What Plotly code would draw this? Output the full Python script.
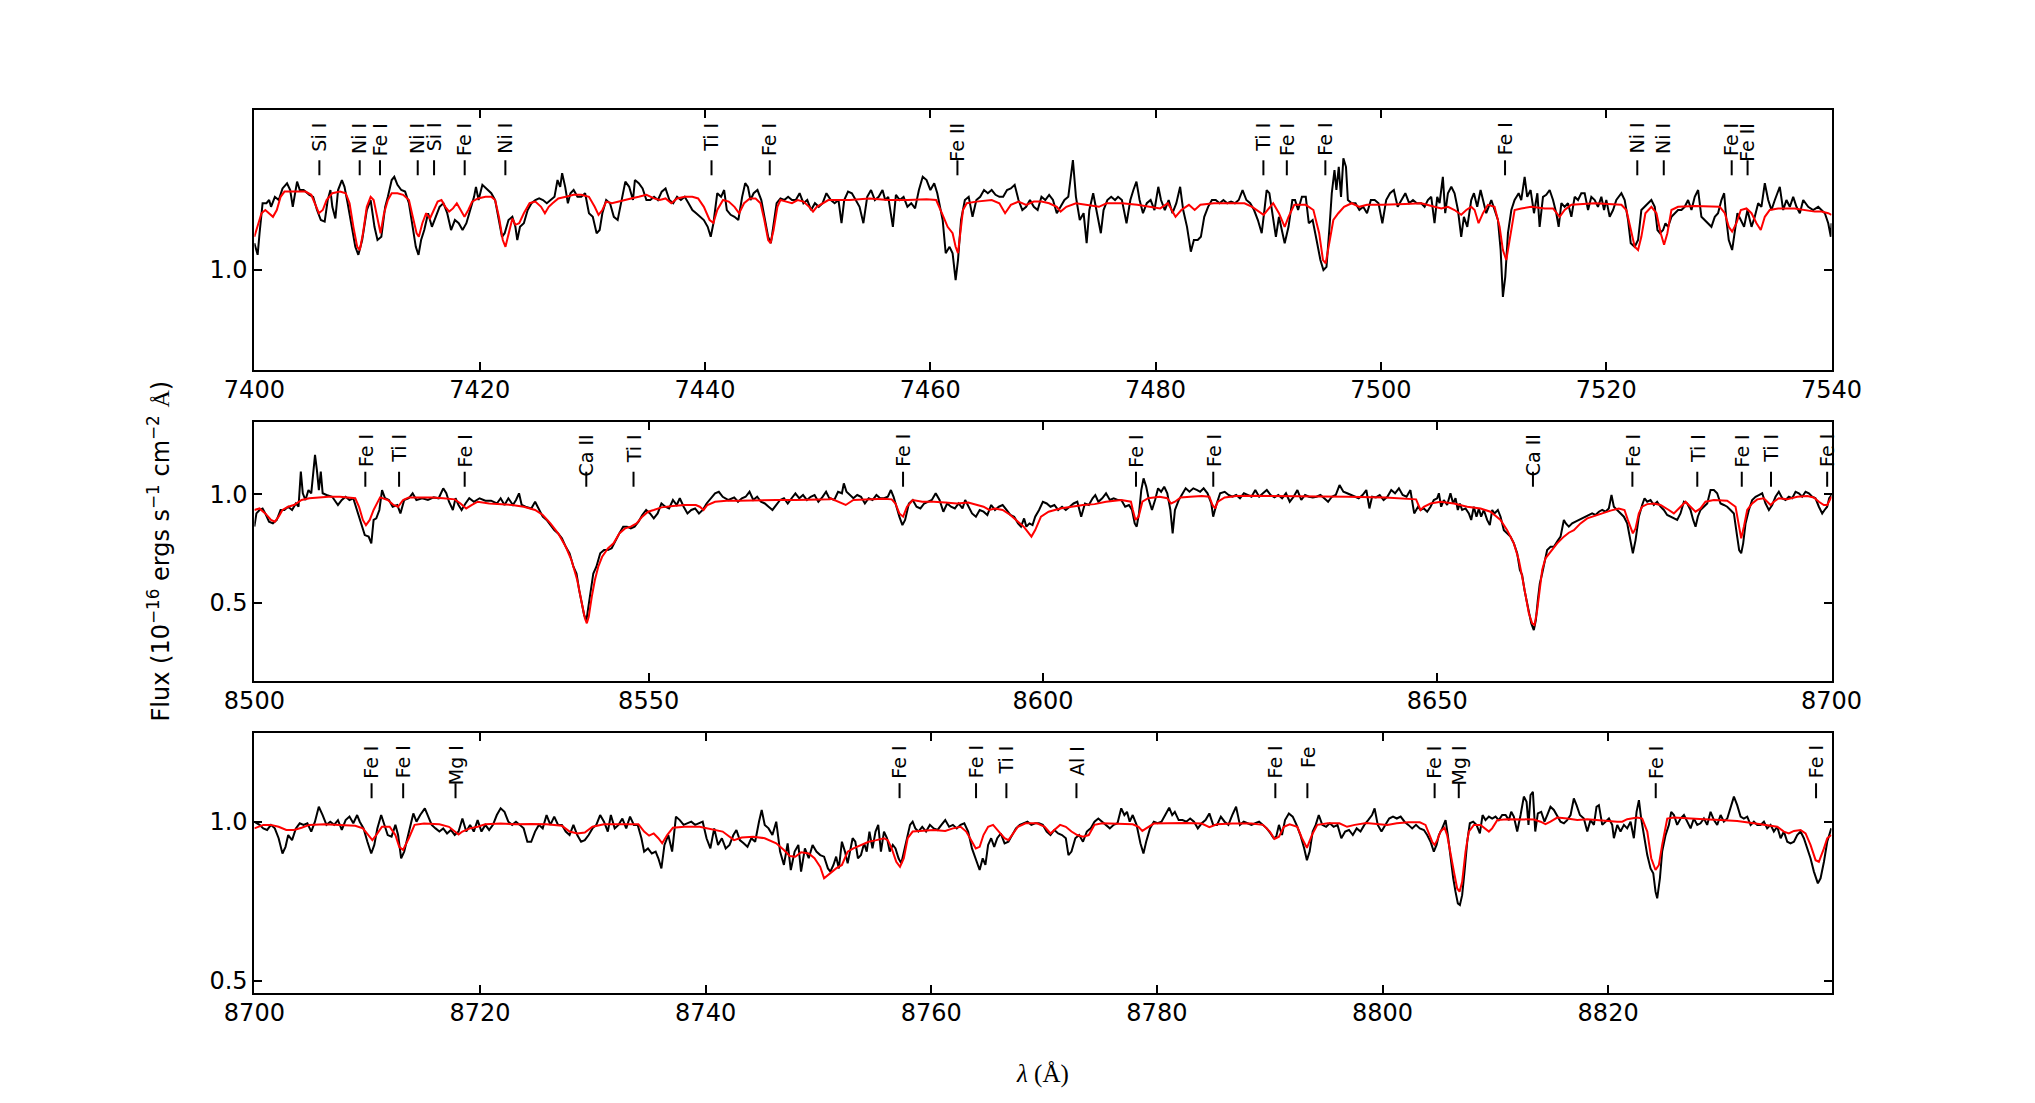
import plotly.graph_objects as go

# ---------------- data ----------------
# Panel 1: observed spectrum (wavelength [A], flux)
P1_OBS = [(7400.00,1.067),(7400.29,1.038),(7400.46,1.092),(7400.73,1.167),(7401.07,1.167),(7401.31,1.175),(7401.48,1.158),(7401.82,1.183),(7402.16,1.175),(7402.50,1.204),(7402.90,1.217),(7403.18,1.200),(7403.41,1.158),(7403.79,1.221),(7404.03,1.200),(7404.37,1.200),(7404.88,1.188),(7405.22,1.183),(7405.56,1.150),(7405.90,1.125),(7406.24,1.121),(7406.51,1.175),(7406.75,1.200),(7406.92,1.158),(7407.19,1.129),(7407.43,1.200),(7407.77,1.225),(7408.00,1.208),(7408.28,1.167),(7408.62,1.117),(7408.96,1.058),(7409.23,1.038),(7409.57,1.075),(7409.98,1.150),(7410.32,1.175),(7410.66,1.108),(7410.93,1.075),(7411.27,1.083),(7411.61,1.158),(7411.85,1.183),(7412.19,1.225),(7412.42,1.233),(7412.70,1.213),(7413.04,1.200),(7413.38,1.196),(7413.72,1.167),(7414.06,1.108),(7414.33,1.058),(7414.57,1.038),(7414.80,1.075),(7415.08,1.100),(7415.42,1.142),(7415.76,1.108),(7416.10,1.133),(7416.44,1.158),(7416.78,1.167),(7417.12,1.142),(7417.46,1.100),(7417.80,1.125),(7418.14,1.117),(7418.48,1.100),(7418.82,1.117),(7419.16,1.150),(7419.50,1.183),(7419.67,1.208),(7419.90,1.175),(7420.24,1.213),(7420.69,1.200),(7421.03,1.192),(7421.37,1.175),(7421.71,1.125),(7421.98,1.083),(7422.22,1.092),(7422.56,1.125),(7422.90,1.133),(7423.17,1.108),(7423.34,1.075),(7423.58,1.108),(7423.92,1.117),(7424.26,1.150),(7424.60,1.167),(7424.94,1.175),(7425.28,1.179),(7425.62,1.175),(7425.96,1.167),(7426.30,1.175),(7426.64,1.183),(7426.91,1.225),(7427.15,1.208),(7427.32,1.242),(7427.59,1.208),(7427.83,1.167),(7428.06,1.192),(7428.34,1.200),(7428.68,1.183),(7429.02,1.183),(7429.36,1.192),(7429.70,1.142),(7430.04,1.133),(7430.38,1.092),(7430.65,1.100),(7430.89,1.142),(7431.23,1.175),(7431.57,1.167),(7431.91,1.133),(7432.25,1.125),(7432.59,1.175),(7432.93,1.221),(7433.27,1.208),(7433.61,1.175),(7433.78,1.225),(7434.12,1.217),(7434.46,1.204),(7434.80,1.175),(7435.14,1.175),(7435.48,1.183),(7435.82,1.175),(7436.16,1.196),(7436.50,1.204),(7436.84,1.175),(7437.18,1.167),(7437.52,1.183),(7437.86,1.175),(7438.20,1.183),(7438.54,1.167),(7438.88,1.150),(7439.22,1.142),(7439.56,1.133),(7439.90,1.125),(7440.24,1.108),(7440.51,1.083),(7440.75,1.117),(7441.09,1.192),(7441.43,1.183),(7441.70,1.200),(7441.94,1.150),(7442.28,1.138),(7442.62,1.133),(7442.96,1.125),(7443.30,1.183),(7443.57,1.217),(7443.81,1.208),(7444.04,1.175),(7444.32,1.192),(7444.66,1.200),(7445.00,1.175),(7445.34,1.125),(7445.61,1.083),(7445.85,1.067),(7446.08,1.108),(7446.36,1.167),(7446.70,1.179),(7447.04,1.175),(7447.38,1.183),(7447.72,1.175),(7448.06,1.175),(7448.40,1.192),(7448.74,1.167),(7449.08,1.175),(7449.42,1.150),(7449.76,1.167),(7450.10,1.158),(7450.44,1.167),(7450.78,1.192),
(7451.17,1.175),(7451.51,1.167),(7451.85,1.175),(7452.12,1.117),(7452.36,1.175),(7452.70,1.196),(7453.04,1.192),(7453.38,1.175),(7453.72,1.158),(7454.06,1.117),(7454.40,1.183),(7454.74,1.200),(7455.08,1.175),(7455.42,1.183),(7455.76,1.200),(7456.00,1.175),(7456.27,1.183),(7456.68,1.108),(7456.95,1.188),(7457.29,1.175),(7457.63,1.183),(7457.97,1.158),(7458.31,1.167),(7458.65,1.154),(7458.99,1.200),(7459.33,1.233),(7459.67,1.225),(7460.01,1.200),(7460.35,1.217),(7460.62,1.192),(7460.86,1.158),(7461.10,1.125),(7461.37,1.042),(7461.71,1.058),(7461.98,1.042),(7462.25,0.975),(7462.46,1.025),(7462.73,1.125),(7463.07,1.175),(7463.41,1.183),(7463.75,1.133),(7464.09,1.175),(7464.43,1.183),(7464.77,1.200),(7465.11,1.192),(7465.45,1.200),(7465.79,1.188),(7466.13,1.183),(7466.47,1.183),(7466.81,1.200),(7467.15,1.204),(7467.49,1.213),(7467.83,1.175),(7468.17,1.150),(7468.51,1.158),(7468.85,1.175),(7469.19,1.158),(7469.53,1.150),(7469.87,1.183),(7470.21,1.175),(7470.55,1.188),(7470.89,1.175),(7471.23,1.142),(7471.57,1.158),(7471.91,1.175),(7472.25,1.183),(7472.42,1.225),(7472.66,1.275),(7472.93,1.183),(7473.27,1.125),(7473.61,1.142),(7473.88,1.067),(7474.12,1.150),(7474.46,1.192),(7474.80,1.142),(7475.14,1.092),(7475.38,1.150),(7475.72,1.175),(7476.06,1.183),(7476.40,1.175),(7476.67,1.183),(7477.01,1.175),(7477.42,1.117),(7477.76,1.175),(7478.03,1.200),(7478.30,1.221),(7478.58,1.175),(7478.88,1.142),(7479.22,1.167),(7479.56,1.175),(7479.90,1.150),(7480.24,1.208),(7480.48,1.175),(7480.82,1.150),(7481.16,1.175),(7481.50,1.142),(7481.84,1.167),(7482.18,1.208),(7482.45,1.150),(7482.79,1.108),(7483.13,1.046),(7483.40,1.075),(7483.74,1.075),(7484.02,1.083),(7484.32,1.133),(7484.66,1.158),(7485.00,1.175),(7485.34,1.175),(7485.68,1.167),(7486.02,1.175),(7486.36,1.167),(7486.70,1.171),(7487.04,1.167),(7487.38,1.175),(7487.72,1.200),(7488.06,1.175),(7488.40,1.167),(7488.74,1.150),(7489.08,1.125),(7489.42,1.092),(7489.66,1.150),(7489.86,1.200),(7490.10,1.192),(7490.44,1.125),(7490.68,1.083),(7490.95,1.133),(7491.23,1.100),(7491.46,1.067),(7491.80,1.108),(7492.14,1.175),(7492.38,1.175),(7492.65,1.150),(7492.99,1.183),(7493.33,1.183),(7493.60,1.117),(7493.94,1.125),(7494.29,1.075),(7494.63,1.025),(7494.90,1.000),(7495.17,1.008),(7495.44,1.108),(7495.64,1.192),(7495.88,1.250),(7496.05,1.200),(7496.26,1.258),(7496.46,1.183),(7496.67,1.279),(7496.90,1.258),(7497.07,1.175),(7497.41,1.167),(7497.75,1.167),(7498.09,1.150),(7498.43,1.158),(7498.77,1.142),(7499.11,1.175),(7499.45,1.175),(7499.79,1.167),(7500.13,1.117),(7500.47,1.175),(7500.81,1.192),(7501.15,1.200),(7501.49,1.158),(7501.83,1.175),(7502.17,1.192),(7502.51,1.167),(7502.85,1.175),(7503.19,1.167),
(7503.58,1.167),(7503.88,1.158),(7504.17,1.175),(7504.47,1.183),(7504.76,1.117),(7505.00,1.183),(7505.21,1.167),(7505.50,1.233),(7505.71,1.142),(7505.95,1.192),(7506.25,1.208),(7506.54,1.192),(7506.84,1.150),(7507.13,1.083),(7507.37,1.133),(7507.67,1.108),(7508.02,1.175),(7508.26,1.192),(7508.55,1.158),(7508.85,1.200),(7509.06,1.175),(7509.35,1.142),(7509.80,1.175),(7510.09,1.150),(7510.39,1.125),(7510.63,1.050),(7510.83,0.933),(7511.04,0.983),(7511.28,1.092),(7511.58,1.150),(7511.87,1.175),(7512.23,1.192),(7512.46,1.175),(7512.76,1.233),(7512.99,1.183),(7513.29,1.200),(7513.59,1.142),(7513.89,1.192),(7514.09,1.108),(7514.39,1.183),(7514.68,1.188),(7514.98,1.200),(7515.28,1.175),(7515.57,1.142),(7515.78,1.108),(7516.02,1.167),(7516.31,1.158),(7516.61,1.167),(7516.91,1.133),(7517.20,1.183),(7517.50,1.175),(7517.79,1.192),(7518.09,1.192),(7518.39,1.150),(7518.68,1.183),(7518.98,1.175),(7519.27,1.158),(7519.57,1.183),(7519.81,1.150),(7520.01,1.175),(7520.31,1.133),(7520.61,1.150),(7520.90,1.175),(7521.35,1.192),(7521.64,1.175),(7521.94,1.125),(7522.18,1.067),(7522.53,1.058),(7522.83,1.075),(7523.12,1.150),(7523.42,1.158),(7523.72,1.167),(7524.01,1.175),(7524.31,1.158),(7524.55,1.100),(7524.78,1.092),(7525.05,1.100),(7525.26,1.117),(7525.49,1.108),(7525.79,1.133),(7526.09,1.142),(7526.38,1.150),(7526.68,1.150),(7526.97,1.158),(7527.27,1.175),(7527.57,1.150),(7527.86,1.183),(7528.16,1.200),(7528.45,1.133),(7528.75,1.125),(7529.05,1.117),(7529.34,1.108),(7529.64,1.133),(7529.93,1.142),(7530.23,1.175),(7530.47,1.192),(7530.67,1.125),(7530.88,1.075),(7531.18,1.050),(7531.42,1.092),(7531.65,1.142),(7531.95,1.125),(7532.24,1.108),(7532.54,1.150),(7532.90,1.108),(7533.19,1.133),(7533.49,1.167),(7533.78,1.158),(7534.08,1.217),(7534.38,1.175),(7534.67,1.150),(7534.97,1.175),(7535.41,1.208),(7535.71,1.150),(7536.00,1.175),(7536.30,1.158),(7536.60,1.183),(7536.89,1.158),(7537.19,1.142),(7537.49,1.175),(7537.93,1.158),(7538.37,1.150),(7538.82,1.158),(7539.11,1.150),(7539.41,1.142),(7539.71,1.117),(7539.94,1.083),(7540.00,1.117)]

# Panel 1: model spectrum
P1_MOD = [(7400.00,1.083),(7400.29,1.108),(7400.63,1.142),(7400.97,1.150),(7401.31,1.142),(7401.65,1.133),(7401.99,1.150),(7402.33,1.183),(7402.67,1.196),(7403.18,1.196),(7403.86,1.196),(7404.54,1.196),(7405.05,1.188),(7405.39,1.167),(7405.73,1.142),(7406.07,1.150),(7406.41,1.175),(7406.92,1.192),(7407.60,1.196),(7408.11,1.192),(7408.45,1.167),(7408.79,1.108),(7409.13,1.058),(7409.36,1.050),(7409.64,1.092),(7409.98,1.158),(7410.32,1.183),(7410.59,1.175),(7410.93,1.125),(7411.20,1.092),(7411.51,1.142),(7411.85,1.175),(7412.19,1.192),(7412.70,1.192),(7413.21,1.188),(7413.72,1.175),(7414.06,1.133),(7414.40,1.092),(7414.60,1.083),(7414.91,1.117),(7415.25,1.142),(7415.59,1.129),(7415.93,1.150),(7416.27,1.171),(7416.61,1.175),(7416.95,1.158),(7417.29,1.146),(7417.63,1.154),(7417.97,1.167),(7418.31,1.150),(7418.65,1.133),(7418.99,1.150),(7419.33,1.171),(7419.84,1.179),(7420.52,1.183),(7421.03,1.183),(7421.37,1.175),(7421.71,1.133),(7422.05,1.075),(7422.29,1.058),(7422.56,1.092),(7422.90,1.129),(7423.17,1.113),(7423.51,1.117),(7423.92,1.142),(7424.43,1.167),(7424.94,1.171),(7425.45,1.158),(7425.79,1.142),(7426.13,1.158),(7426.47,1.167),(7426.98,1.179),(7427.66,1.183),(7428.34,1.188),(7429.02,1.188),(7429.70,1.183),(7430.21,1.158),(7430.55,1.138),(7430.89,1.150),(7431.23,1.171),(7431.74,1.167),(7432.25,1.171),(7432.76,1.175),(7433.44,1.179),(7434.12,1.183),(7434.80,1.188),(7435.48,1.179),(7435.99,1.175),(7436.50,1.179),(7437.01,1.167),(7437.52,1.179),(7438.20,1.183),(7438.88,1.183),(7439.39,1.179),(7439.90,1.158),(7440.41,1.125),(7440.75,1.118),(7441.09,1.150),(7441.60,1.175),(7442.11,1.171),(7442.62,1.158),(7443.03,1.142),(7443.47,1.167),(7443.98,1.179),(7444.49,1.179),(7444.93,1.167),(7445.27,1.125),(7445.61,1.075),(7445.82,1.067),(7446.09,1.100),(7446.43,1.158),(7446.70,1.175),(7447.21,1.171),(7447.72,1.167),(7448.23,1.175),(7448.74,1.171),(7449.25,1.158),(7449.59,1.146),(7449.93,1.158),(7450.44,1.167),(7450.95,1.175),
(7452.87,1.175),(7454.57,1.179),(7456.27,1.175),(7457.97,1.175),(7459.67,1.177),(7460.52,1.175),(7461.03,1.142),(7461.54,1.108),(7461.98,1.092),(7462.25,1.058),(7462.46,1.042),(7462.66,1.092),(7462.90,1.150),(7463.24,1.167),(7464.09,1.171),(7465.45,1.175),(7466.13,1.167),(7466.64,1.142),(7467.15,1.163),(7467.83,1.171),(7468.51,1.163),(7469.19,1.171),(7469.87,1.171),(7470.55,1.167),(7471.23,1.158),(7471.57,1.146),(7472.08,1.158),(7472.93,1.167),(7473.95,1.163),(7474.97,1.158),(7475.65,1.167),(7477.01,1.167),(7478.37,1.163),(7479.39,1.158),(7480.41,1.154),(7481.09,1.167),(7481.77,1.133),(7482.28,1.150),(7482.96,1.163),(7483.47,1.150),(7483.98,1.163),(7485.17,1.167),(7486.53,1.167),(7487.89,1.167),(7488.57,1.158),(7489.25,1.146),(7489.59,1.138),(7489.93,1.150),(7490.44,1.167),(7490.95,1.142),(7491.46,1.108),(7491.80,1.133),(7492.31,1.163),(7493.33,1.163),(7494.01,1.150),(7494.52,1.092),(7494.86,1.025),(7495.10,1.017),(7495.37,1.058),(7495.78,1.125),(7496.22,1.142),(7496.73,1.158),(7497.41,1.167),(7498.09,1.158),(7498.77,1.163),(7500.13,1.163),(7502.17,1.165),
(7503.58,1.167),(7504.76,1.158),(7505.36,1.154),(7505.95,1.158),(7506.54,1.150),(7507.13,1.138),(7507.58,1.150),(7508.02,1.158),(7508.32,1.150),(7508.67,1.117),(7509.06,1.142),(7509.50,1.163),(7510.09,1.158),(7510.54,1.108),(7510.83,1.050),(7511.13,1.025),(7511.43,1.075),(7511.87,1.150),(7512.46,1.154),(7513.35,1.158),(7514.54,1.154),(7515.28,1.154),(7515.87,1.133),(7516.31,1.150),(7516.91,1.163),(7517.79,1.165),(7518.98,1.167),(7520.16,1.165),(7521.35,1.163),(7521.79,1.150),(7522.24,1.092),(7522.53,1.058),(7522.83,1.050),(7523.12,1.083),(7523.48,1.142),(7524.01,1.158),(7524.46,1.142),(7524.84,1.092),(7525.14,1.063),(7525.43,1.092),(7525.79,1.150),(7526.38,1.158),(7527.86,1.160),(7529.05,1.158),(7530.08,1.158),(7530.53,1.142),(7530.88,1.108),(7531.18,1.096),(7531.56,1.117),(7531.95,1.150),(7532.45,1.154),(7532.90,1.142),(7533.34,1.117),(7533.72,1.100),(7534.08,1.133),(7534.52,1.150),(7535.26,1.154),(7536.74,1.154),(7537.63,1.150),(7538.52,1.146),(7539.11,1.146),(7539.71,1.142),(7540.00,1.138)]

# Panel 2: observed spectrum
P2_OBS = [(8500.00,0.851),(8500.26,0.912),(8500.65,0.928),(8501.04,0.935),(8501.38,0.912),(8501.86,0.874),(8502.35,0.866),(8502.84,0.882),(8503.32,0.928),(8503.81,0.928),(8504.29,0.943),(8504.78,0.928),(8505.26,0.958),(8505.60,0.943),(8505.89,1.105),(8506.14,1.005),(8506.48,0.974),(8506.86,1.020),(8507.21,1.005),(8507.45,1.082),(8507.69,1.182),(8507.93,1.112),(8508.18,1.020),(8508.42,1.105),(8508.66,1.005),(8509.15,0.997),(8509.87,0.989),(8510.60,0.951),(8511.09,0.974),(8511.57,0.989),(8512.06,0.974),(8512.54,0.982),(8513.03,0.928),(8513.52,0.874),(8514.00,0.812),(8514.49,0.805),(8514.83,0.774),(8515.12,0.882),(8515.46,0.889),(8515.85,0.928),(8516.19,1.020),(8516.57,0.982),(8517.06,0.974),(8517.54,0.943),(8518.13,0.951),(8518.52,0.912),(8519.00,0.974),(8519.58,0.982),(8520.07,1.005),(8520.55,0.974),(8521.28,0.982),(8522.01,0.974),(8522.74,0.986),(8523.37,0.982),(8523.95,1.028),(8524.34,1.005),(8524.68,0.966),(8525.17,0.928),(8525.51,0.982),(8525.89,0.951),(8526.28,0.928),(8526.77,0.958),(8527.25,0.982),(8527.84,0.966),(8528.56,0.982),(8529.29,0.971),(8530.02,0.971),(8530.75,0.958),(8531.23,0.982),(8531.72,0.951),(8532.21,0.982),(8532.79,0.951),(8533.18,0.974),(8533.56,1.005),(8533.90,0.951),(8534.39,0.943),(8535.12,0.935),(8535.60,0.966),(8536.09,0.928),(8536.57,0.897),(8537.06,0.882),(8537.54,0.858),(8538.03,0.835),(8538.52,0.820),(8539.00,0.797),(8539.49,0.758),(8539.97,0.728),(8540.46,0.666),(8540.85,0.635),(8541.19,0.558),(8541.53,0.497),(8541.82,0.443),(8542.11,0.420),(8542.40,0.497),(8542.69,0.574),(8542.98,0.635),(8543.37,0.666),(8543.86,0.728),(8544.34,0.743),(8544.83,0.743),(8545.31,0.751),(8545.80,0.789),(8546.28,0.820),(8546.77,0.851),(8547.25,0.851),(8547.74,0.843),(8548.22,0.851),(8548.71,0.874),(8549.19,0.905),(8549.68,0.928),(8550.17,0.912),(8550.65,0.889),(8551.14,0.912),(8551.62,0.958),(8552.11,0.943),(8552.59,0.935),(8553.08,0.974),(8553.56,0.951),(8553.95,0.982),(8554.44,0.943),(8554.92,0.912),(8555.41,0.928),(8555.89,0.935),(8556.38,0.912),(8556.86,0.928),(8557.35,0.958),(8557.84,0.982),(8558.42,1.005),(8558.90,1.012),(8559.39,0.989),(8560.12,0.974),(8560.85,0.986),(8561.33,0.966),(8561.82,0.982),(8562.30,0.989),(8562.79,1.012),(8563.27,0.974),(8563.76,0.989),(8564.24,0.966),(8564.73,0.958),(8565.21,0.943),(8565.70,0.928),(8566.19,0.951),(8566.67,0.974),(8567.16,0.982),(8567.64,0.958),(8568.13,0.982),(8568.61,1.005),(8569.10,0.982),(8569.58,0.997),(8570.07,0.974),(8570.55,0.989),(8571.04,0.997),(8571.52,0.966),(8572.01,0.986),(8572.50,1.012),(8572.98,0.977),
(8573.05,0.982),(8573.54,0.974),(8574.02,1.012),(8574.51,1.005),(8574.75,1.051),(8575.09,1.012),(8575.48,0.997),(8575.96,0.982),(8576.45,0.997),(8576.93,0.989),(8577.42,0.958),(8577.90,0.982),(8578.39,0.974),(8578.88,0.997),(8579.36,0.982),(8579.85,0.982),(8580.33,0.989),(8580.72,1.020),(8581.06,0.989),(8581.40,0.943),(8581.79,0.897),(8582.18,0.858),(8582.52,0.882),(8583.00,0.958),(8583.49,0.974),(8583.97,0.943),(8584.46,0.935),(8584.94,0.958),(8585.43,0.966),(8585.91,0.974),(8586.40,1.005),(8586.89,0.974),(8587.37,0.920),(8587.86,0.958),(8588.34,0.943),(8588.83,0.935),(8589.31,0.958),(8589.80,0.935),(8590.14,0.974),(8590.53,0.943),(8591.01,0.912),(8591.50,0.897),(8591.98,0.928),(8592.47,0.920),(8592.95,0.905),(8593.44,0.951),(8593.92,0.928),(8594.41,0.943),(8594.89,0.951),(8595.38,0.928),(8595.87,0.905),(8596.35,0.897),(8596.84,0.866),(8597.22,0.851),(8597.61,0.889),(8597.90,0.851),(8598.29,0.866),(8598.68,0.858),(8599.02,0.897),(8599.51,0.928),(8599.99,0.966),(8600.48,0.958),(8600.96,0.943),(8601.45,0.951),(8601.93,0.928),(8602.42,0.943),(8602.90,0.928),(8603.39,0.943),(8603.88,0.958),(8604.36,0.966),(8604.85,0.897),(8605.33,0.958),(8605.82,0.951),(8606.30,0.982),(8606.64,0.997),(8607.03,0.966),(8607.52,0.982),(8608.00,1.005),(8608.49,0.974),(8608.97,0.982),(8609.46,0.974),(8609.94,0.974),(8610.43,0.943),(8610.91,0.951),(8611.30,0.928),(8611.64,0.866),(8611.89,0.851),(8612.18,0.912),(8612.47,1.020),(8612.76,1.074),(8613.10,1.035),(8613.44,0.974),(8613.83,0.928),(8614.22,0.974),(8614.60,1.028),(8614.99,1.012),(8615.38,1.035),(8615.77,1.005),(8616.16,0.928),(8616.45,0.820),(8616.74,0.928),(8617.23,0.974),(8617.61,0.997),(8618.10,1.028),(8618.58,1.012),(8619.07,1.028),(8619.56,1.020),(8619.94,1.012),(8620.38,1.028),(8620.87,1.005),(8621.35,0.958),(8621.59,0.897),(8621.98,0.951),(8622.47,1.005),(8623.05,1.012),(8623.54,0.997),(8624.02,0.989),(8624.51,0.997),(8624.99,0.982),(8625.48,1.005),(8625.96,0.997),(8626.45,0.989),(8626.93,1.020),(8627.42,0.989),(8627.90,1.005),(8628.39,1.020),(8628.88,0.997),(8629.36,0.986),(8629.85,0.997),(8630.33,0.982),(8630.82,1.005),(8631.30,0.966),(8631.79,0.989),(8632.27,1.020),(8632.76,0.974),(8633.24,0.997),(8633.73,0.989),(8634.22,0.986),(8634.70,0.989),(8635.19,0.997),(8635.67,0.982),(8636.16,0.966),(8636.64,0.989),(8637.13,0.997),(8637.61,1.043),(8638.10,1.012),(8638.58,1.005),(8639.07,0.997),(8639.56,0.989),(8640.04,0.982),(8640.53,0.997),(8641.01,1.020),(8641.40,0.935),(8641.74,0.989),(8642.23,0.986),(8642.71,0.997),(8643.20,0.974),(8643.68,0.989),(8644.17,1.020),(8644.65,1.005),(8645.14,1.028),(8645.62,0.997),(8646.11,0.989),(8646.60,1.020),(8647.08,0.912),(8647.57,0.943),
(8647.88,0.928),(8648.30,0.935),(8648.73,0.920),(8649.15,0.943),(8649.57,0.974),(8649.99,0.982),(8650.21,1.005),(8650.50,0.943),(8650.84,0.974),(8651.26,0.951),(8651.68,1.005),(8652.02,0.958),(8652.32,0.982),(8652.61,0.928),(8652.87,0.958),(8653.16,0.928),(8653.59,0.935),(8654.01,0.912),(8654.31,0.882),(8654.64,0.943),(8654.98,0.897),(8655.28,0.935),(8655.57,0.897),(8655.91,0.928),(8656.33,0.882),(8656.67,0.858),(8656.97,0.928),(8657.26,0.912),(8657.69,0.928),(8658.03,0.897),(8658.45,0.835),(8658.87,0.820),(8659.29,0.805),(8659.72,0.774),(8660.14,0.728),(8660.48,0.651),(8660.77,0.628),(8661.07,0.558),(8661.32,0.512),(8661.62,0.466),(8661.92,0.405),(8662.25,0.374),(8662.51,0.420),(8662.76,0.512),(8663.01,0.589),(8663.31,0.635),(8663.61,0.689),(8663.94,0.743),(8664.37,0.758),(8664.79,0.758),(8665.21,0.782),(8665.64,0.805),(8666.06,0.882),(8666.31,0.866),(8666.69,0.851),(8667.11,0.866),(8667.54,0.874),(8667.96,0.882),(8668.38,0.889),(8668.81,0.897),(8669.23,0.905),(8669.65,0.912),(8670.07,0.905),(8670.50,0.920),(8670.92,0.928),(8671.34,0.920),(8671.76,0.935),(8672.10,0.997),(8672.40,0.943),(8672.82,0.928),(8673.24,0.912),(8673.67,0.897),(8674.09,0.866),(8674.51,0.774),(8674.81,0.728),(8675.15,0.789),(8675.57,0.897),(8675.99,0.951),(8676.29,0.982),(8676.63,0.966),(8677.05,0.974),(8677.47,0.951),(8677.89,0.966),(8678.32,0.943),(8678.74,0.928),(8679.16,0.905),(8679.59,0.897),(8680.01,0.889),(8680.43,0.882),(8680.85,0.912),(8681.28,0.966),(8681.70,0.958),(8682.12,0.928),(8682.46,0.882),(8682.76,0.851),(8683.05,0.897),(8683.39,0.928),(8683.81,0.943),(8684.24,0.958),(8684.66,1.020),(8685.08,1.020),(8685.50,1.005),(8685.93,0.958),(8686.35,0.951),(8686.77,0.943),(8687.19,0.928),(8687.62,0.912),(8688.04,0.805),(8688.29,0.743),(8688.55,0.728),(8688.80,0.774),(8689.10,0.866),(8689.52,0.928),(8689.94,0.974),(8690.37,0.989),(8690.79,0.997),(8691.21,1.005),(8691.63,0.958),(8692.06,0.928),(8692.48,0.951),(8692.90,0.989),(8693.32,1.012),(8693.75,0.982),(8694.17,0.974),(8694.59,0.989),(8695.02,0.982),(8695.44,1.012),(8695.86,1.005),(8696.28,0.989),(8696.71,1.012),(8697.13,1.005),(8697.55,0.989),(8697.97,0.982),(8698.40,0.943),(8698.82,0.912),(8699.12,0.928),(8699.45,0.943),(8699.71,0.982),(8700.00,0.997)]

# Panel 2: model spectrum
P2_MOD = [(8500.00,0.928),(8500.65,0.935),(8501.38,0.912),(8502.11,0.882),(8502.59,0.874),(8503.08,0.897),(8503.56,0.928),(8504.29,0.943),(8505.02,0.951),(8505.99,0.974),(8506.96,0.982),(8507.93,0.986),(8509.39,0.989),(8510.85,0.989),(8512.30,0.986),(8512.79,0.982),(8513.27,0.943),(8513.76,0.882),(8514.15,0.858),(8514.63,0.882),(8515.12,0.928),(8515.94,0.986),(8516.91,0.974),(8517.64,0.951),(8518.22,0.943),(8518.86,0.974),(8519.58,0.986),(8521.04,0.986),(8522.50,0.986),(8523.95,0.982),(8525.41,0.977),(8526.14,0.958),(8526.86,0.935),(8527.59,0.951),(8528.32,0.966),(8529.78,0.958),(8531.23,0.955),(8532.69,0.951),(8534.15,0.943),(8535.60,0.928),(8536.57,0.905),(8537.54,0.866),(8538.52,0.820),(8539.49,0.758),(8540.21,0.697),(8540.94,0.605),(8541.53,0.497),(8541.91,0.428),(8542.16,0.405),(8542.40,0.435),(8542.79,0.528),(8543.18,0.605),(8543.61,0.666),(8544.10,0.712),(8544.83,0.751),(8545.55,0.774),(8546.28,0.820),(8547.01,0.843),(8547.74,0.851),(8548.47,0.866),(8549.19,0.897),(8549.92,0.920),(8550.65,0.928),(8551.62,0.940),(8553.08,0.946),(8554.54,0.951),(8555.99,0.951),(8556.48,0.943),(8556.96,0.928),(8557.45,0.951),(8558.42,0.966),(8559.87,0.971),(8561.33,0.971),(8563.76,0.974),(8566.19,0.974),(8568.61,0.974),(8571.04,0.977),(8572.98,0.977),
(8573.05,0.982),(8574.02,0.966),(8574.99,0.951),(8575.96,0.974),(8577.90,0.977),(8579.85,0.980),(8580.82,0.977),(8581.30,0.958),(8581.79,0.912),(8582.27,0.897),(8582.76,0.943),(8583.49,0.974),(8584.70,0.966),(8586.16,0.966),(8587.61,0.962),(8589.07,0.958),(8590.53,0.962),(8591.50,0.951),(8592.47,0.943),(8593.20,0.928),(8593.92,0.935),(8594.89,0.928),(8595.87,0.905),(8596.84,0.874),(8597.56,0.851),(8598.05,0.828),(8598.54,0.805),(8599.02,0.835),(8599.75,0.897),(8600.72,0.920),(8602.18,0.935),(8603.63,0.943),(8605.09,0.951),(8606.55,0.955),(8608.00,0.966),(8609.94,0.974),(8611.16,0.966),(8611.40,0.928),(8611.74,0.882),(8612.13,0.897),(8612.61,0.966),(8613.34,0.982),(8614.80,0.989),(8615.77,0.982),(8616.25,0.958),(8616.74,0.966),(8617.47,0.986),(8618.68,0.989),(8620.14,0.992),(8621.11,0.989),(8621.50,0.951),(8621.84,0.935),(8622.18,0.966),(8623.05,0.986),(8624.51,0.992),(8626.45,0.994),(8629.36,0.992),(8633.73,0.989),(8638.58,0.989),(8643.44,0.986),(8645.87,0.982),(8647.32,0.977),
(8647.88,0.928),(8648.30,0.943),(8649.15,0.958),(8650.42,0.966),(8652.11,0.958),(8653.80,0.943),(8655.49,0.935),(8656.76,0.920),(8658.03,0.882),(8658.87,0.835),(8659.72,0.774),(8660.35,0.697),(8660.77,0.620),(8661.20,0.528),(8661.62,0.451),(8662.04,0.405),(8662.34,0.397),(8662.68,0.466),(8663.01,0.574),(8663.31,0.651),(8663.73,0.705),(8664.37,0.735),(8665.21,0.774),(8666.06,0.805),(8666.69,0.823),(8667.33,0.835),(8668.17,0.866),(8669.02,0.889),(8669.86,0.900),(8670.92,0.912),(8671.98,0.925),(8673.03,0.935),(8673.75,0.928),(8674.17,0.882),(8674.51,0.851),(8674.81,0.820),(8675.15,0.843),(8675.57,0.912),(8675.99,0.943),(8676.63,0.955),(8677.47,0.958),(8678.32,0.951),(8679.37,0.928),(8680.01,0.912),(8680.64,0.935),(8681.49,0.966),(8682.12,0.943),(8682.76,0.920),(8683.39,0.935),(8684.02,0.966),(8685.08,0.974),(8686.77,0.971),(8687.83,0.943),(8688.25,0.866),(8688.55,0.797),(8688.89,0.851),(8689.31,0.928),(8689.94,0.958),(8690.58,0.977),(8691.42,0.982),(8691.84,0.966),(8692.27,0.951),(8692.69,0.966),(8693.32,0.982),(8694.38,0.977),(8695.65,0.989),(8696.92,0.992),(8697.76,0.986),(8698.40,0.966),(8699.03,0.951),(8699.45,0.951),(8700.00,0.989)]

# Panel 3: observed spectrum
P3_OBS = [(8700.00,1.000),(8700.46,0.990),(8700.79,0.979),(8701.13,0.974),(8701.47,0.990),(8701.81,0.979),(8702.15,0.948),(8702.49,0.900),(8702.76,0.921),(8703.00,0.958),(8703.34,0.942),(8703.68,0.979),(8704.02,0.995),(8704.36,0.990),(8704.70,0.995),(8705.04,0.969),(8705.37,1.000),(8705.71,1.047),(8706.05,1.021),(8706.39,0.990),(8706.73,1.000),(8707.07,0.990),(8707.41,1.005),(8707.75,0.974),(8708.09,1.005),(8708.43,1.016),(8708.77,0.995),(8709.11,1.021),(8709.34,1.000),(8709.68,0.979),(8710.02,0.937),(8710.36,0.900),(8710.63,0.927),(8710.90,0.979),(8711.24,1.021),(8711.52,0.990),(8711.82,0.958),(8712.16,0.953),(8712.50,0.990),(8712.74,0.958),(8713.01,0.885),(8713.28,0.906),(8713.55,0.948),(8713.86,0.990),(8714.09,1.026),(8714.37,1.000),(8714.70,1.021),(8715.11,1.042),(8715.38,1.021),(8715.72,0.990),(8716.06,0.979),(8716.40,0.969),(8716.74,0.979),(8717.08,0.963),(8717.42,0.974),(8717.76,0.958),(8718.10,0.969),(8718.44,1.010),(8718.78,0.969),(8719.12,0.990),(8719.45,0.969),(8719.79,1.005),(8720.13,0.969),(8720.47,0.990),(8720.81,0.974),(8721.15,0.990),(8721.49,1.021),(8721.83,1.042),(8722.17,1.031),(8722.51,1.000),(8722.85,0.990),(8723.19,1.000),(8723.53,0.990),(8723.87,0.979),(8724.20,0.937),(8724.54,0.937),(8724.88,0.969),(8725.22,0.990),(8725.56,0.979),(8725.90,1.021),(8726.24,0.990),(8726.58,1.016),(8726.92,0.990),(8727.26,0.990),(8727.60,0.969),(8727.94,0.958),(8728.28,0.990),(8728.62,0.958),(8728.96,0.937),(8729.29,0.942),(8729.63,0.958),(8729.97,0.979),(8730.31,0.990),(8730.65,1.021),(8730.99,1.000),(8731.33,0.969),(8731.60,1.021),(8731.94,0.979),(8732.28,0.990),(8732.62,1.010),(8732.96,0.979),(8733.30,1.016),(8733.64,0.990),(8733.98,0.990),(8734.31,0.948),(8734.55,0.906),(8734.89,0.916),(8735.23,0.900),(8735.57,0.906),(8735.81,0.885),(8736.08,0.853),(8736.35,0.927),(8736.69,0.958),(8737.03,0.906),(8737.37,1.016),(8737.71,1.005),(8738.05,0.990),(8738.39,0.995),(8738.73,1.000),(8739.07,0.990),(8739.40,0.995),(8739.74,1.000),(8740.08,0.948),(8740.42,0.916),(8740.76,0.979),(8741.10,0.927),(8741.44,0.948),(8741.78,0.916),(8742.12,0.927),(8742.46,0.958),(8742.73,0.974),(8743.03,0.942),(8743.37,0.932),(8743.71,0.921),(8744.05,0.948),(8744.39,0.937),(8744.73,1.000),(8744.97,1.037),(8745.24,0.990),(8745.58,0.979),(8745.92,0.958),(8746.26,1.000),(8746.60,0.906),(8746.94,0.864),(8747.27,0.932),(8747.55,0.848),(8747.89,0.906),(8748.22,0.927),(8748.46,0.843),(8748.80,0.916),(8749.14,0.885),(8749.48,0.927),(8749.82,0.906),(8750.16,0.895),(8750.50,0.890),(8750.84,0.853),
(8751.06,0.843),(8751.33,0.864),(8751.57,0.890),(8751.81,0.853),(8752.08,0.937),(8752.35,0.906),(8752.59,0.869),(8752.82,0.906),(8753.03,0.948),(8753.27,0.937),(8753.50,0.885),(8753.77,0.895),(8754.05,0.932),(8754.28,0.906),(8754.52,0.969),(8754.79,0.916),(8755.06,0.969),(8755.30,0.990),(8755.54,0.906),(8755.81,0.969),(8756.08,0.948),(8756.32,0.906),(8756.59,0.927),(8756.83,0.916),(8757.10,0.885),(8757.34,0.869),(8757.57,0.906),(8757.85,0.948),(8758.12,0.990),(8758.35,1.000),(8758.59,0.979),(8758.86,0.969),(8759.20,0.984),(8759.54,0.969),(8759.88,0.990),(8760.22,0.979),(8760.56,0.974),(8760.90,0.990),(8761.24,1.005),(8761.58,0.984),(8761.92,0.990),(8762.26,0.979),(8762.60,0.990),(8762.93,0.995),(8763.27,0.969),(8763.61,0.916),(8763.95,0.885),(8764.29,0.848),(8764.56,0.885),(8764.80,0.864),(8765.04,0.927),(8765.31,0.948),(8765.58,0.921),(8765.85,0.948),(8766.16,0.963),(8766.50,0.932),(8766.84,0.937),(8767.18,0.958),(8767.51,0.979),(8767.85,0.990),(8768.19,0.995),(8768.53,1.000),(8768.87,0.990),(8769.21,0.995),(8769.55,0.995),(8769.89,0.990),(8770.23,0.969),(8770.57,0.958),(8770.91,0.974),(8771.25,0.963),(8771.59,0.958),(8771.93,0.948),(8772.16,0.895),(8772.43,0.906),(8772.77,0.948),(8773.11,0.958),(8773.45,0.937),(8773.79,0.969),(8774.13,0.979),(8774.47,1.000),(8774.81,1.010),(8775.15,1.000),(8775.49,0.990),(8775.83,0.979),(8776.17,0.990),(8776.51,0.995),(8776.84,1.042),(8777.12,1.021),(8777.35,1.031),(8777.59,1.000),(8777.86,1.021),(8778.20,0.990),(8778.54,0.932),(8778.81,0.900),(8779.05,0.937),(8779.39,0.979),(8779.73,1.000),(8780.07,0.995),(8780.41,1.000),(8780.75,1.021),(8781.09,1.044),(8781.36,1.021),(8781.59,1.031),(8781.93,1.005),(8782.27,1.005),(8782.61,1.000),(8782.95,1.010),(8783.29,1.000),(8783.63,0.979),(8783.97,0.995),(8784.31,1.005),(8784.65,1.026),(8784.99,0.990),(8785.33,0.990),(8785.67,1.016),(8786.00,1.000),(8786.34,0.990),(8786.68,1.021),(8787.02,1.047),(8787.36,0.990),(8787.70,1.000),(8788.04,0.995),(8788.38,0.990),(8788.72,0.995),(8789.06,1.000),(8789.40,0.990),(8789.74,0.979),(8790.08,0.963),(8790.35,0.948),(8790.58,0.953),(8790.82,0.990),(8791.09,0.958),(8791.36,1.005),(8791.70,1.026),(8792.04,1.016),(8792.38,0.990),(8792.72,0.958),(8793.06,0.916),(8793.30,0.879),(8793.54,0.906),(8793.81,0.969),(8794.08,0.990),(8794.35,1.021),(8794.66,0.990),(8795.00,0.984),(8795.33,0.995),(8795.67,0.984),(8796.01,0.990),(8796.35,0.948),(8796.69,0.969),(8797.03,0.974),(8797.37,0.958),(8797.71,0.979),(8798.05,0.969),(8798.39,0.990),(8798.73,1.005),(8799.07,1.021),(8799.30,1.042),(8799.58,0.990),(8799.91,0.969),(8800.25,0.990),(8800.59,1.010),(8800.93,1.016),(8801.27,1.010),(8801.61,1.016),(8801.95,1.000),(8802.29,0.990),(8802.63,0.979),(8802.97,0.990),(8803.31,0.979),
(8803.67,0.974),(8803.96,0.958),(8804.26,0.937),(8804.55,0.906),(8804.79,0.927),(8805.00,0.958),(8805.29,0.979),(8805.59,1.005),(8805.79,0.958),(8806.03,0.885),(8806.27,0.822),(8806.47,0.780),(8806.68,0.743),(8806.86,0.738),(8807.06,0.769),(8807.27,0.843),(8807.51,0.937),(8807.74,0.995),(8808.04,1.000),(8808.33,0.990),(8808.63,0.963),(8808.87,1.021),(8809.13,1.005),(8809.43,1.016),(8809.72,1.010),(8810.02,1.016),(8810.31,1.005),(8810.61,1.021),(8810.91,1.021),(8811.20,1.005),(8811.41,1.031),(8811.64,1.016),(8811.94,0.969),(8812.24,1.021),(8812.53,1.079),(8812.77,1.063),(8812.94,0.990),(8813.12,1.084),(8813.33,1.094),(8813.54,0.969),(8813.77,1.026),(8814.07,1.031),(8814.36,1.000),(8814.60,1.021),(8814.89,1.047),(8815.19,1.037),(8815.49,1.016),(8815.78,1.000),(8816.08,0.995),(8816.37,1.005),(8816.67,1.021),(8816.96,1.073),(8817.20,1.052),(8817.50,1.021),(8817.85,1.010),(8818.15,0.969),(8818.44,1.005),(8818.74,0.990),(8818.97,1.047),(8819.18,1.052),(8819.48,0.990),(8819.77,1.000),(8820.07,1.010),(8820.36,0.990),(8820.51,0.948),(8820.81,0.990),(8821.10,0.969),(8821.40,0.990),(8821.69,0.979),(8821.99,1.000),(8822.28,0.948),(8822.52,1.031),(8822.73,1.068),(8822.93,1.010),(8823.17,0.958),(8823.47,0.895),(8823.76,0.853),(8824.00,0.838),(8824.20,0.780),(8824.35,0.759),(8824.59,0.822),(8824.79,0.906),(8825.09,0.958),(8825.39,0.990),(8825.59,1.031),(8825.83,1.021),(8826.12,0.990),(8826.42,1.010),(8826.72,1.021),(8827.01,1.000),(8827.31,0.979),(8827.60,1.010),(8827.90,0.990),(8828.19,0.995),(8828.49,1.010),(8828.78,0.990),(8829.08,1.031),(8829.38,1.005),(8829.67,0.990),(8829.97,1.021),(8830.26,1.000),(8830.56,1.010),(8830.85,1.042),(8831.15,1.079),(8831.44,1.052),(8831.74,1.016),(8832.03,1.010),(8832.33,1.016),(8832.63,0.990),(8832.92,1.000),(8833.22,0.990),(8833.51,0.990),(8833.81,1.000),(8834.10,0.979),(8834.40,0.990),(8834.69,0.969),(8834.99,0.984),(8835.29,0.948),(8835.58,0.969),(8835.88,0.937),(8836.17,0.932),(8836.47,0.937),(8836.76,0.958),(8837.06,0.969),(8837.35,0.948),(8837.65,0.916),(8837.94,0.885),(8838.24,0.843),(8838.59,0.806),(8838.83,0.822),(8839.13,0.874),(8839.42,0.937),(8839.66,0.969),(8839.78,0.979)]

# Panel 3: model spectrum
P3_MOD = [(8700.00,0.979),(8700.79,0.990),(8701.47,0.990),(8702.15,0.984),(8702.83,0.974),(8703.51,0.974),(8704.19,0.981),(8704.87,0.990),(8706.22,0.992),(8707.58,0.990),(8708.94,0.987),(8709.62,0.979),(8710.06,0.958),(8710.46,0.942),(8710.80,0.958),(8711.31,0.984),(8711.99,0.984),(8712.50,0.958),(8712.84,0.921),(8713.18,0.911),(8713.69,0.948),(8714.20,0.990),(8715.04,0.994),(8716.40,0.992),(8717.25,0.984),(8717.76,0.969),(8718.10,0.960),(8718.44,0.969),(8719.12,0.979),(8719.79,0.984),(8720.47,0.992),(8721.83,0.994),(8723.19,0.992),(8724.54,0.993),(8725.90,0.992),(8727.26,0.987),(8727.94,0.969),(8728.62,0.963),(8729.29,0.966),(8729.97,0.984),(8730.99,0.992),(8732.69,0.992),(8734.04,0.992),(8734.55,0.969),(8734.99,0.956),(8735.40,0.963),(8735.81,0.948),(8736.15,0.932),(8736.59,0.958),(8737.10,0.981),(8738.11,0.984),(8739.47,0.984),(8740.49,0.977),(8741.51,0.969),(8742.52,0.942),(8743.20,0.950),(8744.22,0.953),(8745.24,0.948),(8746.26,0.932),(8746.94,0.911),(8747.45,0.892),(8747.95,0.890),(8748.46,0.904),(8749.14,0.900),(8749.65,0.885),(8750.16,0.858),(8750.50,0.822),(8750.84,0.832),
(8751.06,0.838),(8751.57,0.853),(8752.08,0.864),(8752.59,0.906),(8753.10,0.916),(8753.77,0.927),(8754.45,0.937),(8755.13,0.942),(8755.81,0.948),(8756.15,0.942),(8756.49,0.916),(8756.90,0.874),(8757.23,0.858),(8757.57,0.885),(8757.91,0.948),(8758.35,0.969),(8759.20,0.971),(8760.22,0.974),(8761.24,0.971),(8761.92,0.979),(8762.60,0.984),(8763.10,0.969),(8763.44,0.948),(8763.95,0.916),(8764.29,0.921),(8764.63,0.958),(8765.04,0.984),(8765.48,0.990),(8765.99,0.969),(8766.50,0.948),(8766.84,0.942),(8767.18,0.958),(8767.68,0.984),(8768.36,0.995),(8769.38,0.995),(8770.06,0.984),(8770.57,0.963),(8770.91,0.974),(8771.42,0.990),(8771.93,0.984),(8772.43,0.969),(8772.94,0.958),(8773.45,0.953),(8773.96,0.958),(8774.47,0.990),(8775.15,0.995),(8776.51,0.994),(8777.86,0.992),(8778.37,0.984),(8778.71,0.971),(8779.05,0.979),(8779.73,0.994),(8780.92,0.995),(8782.61,0.996),(8783.97,0.994),(8784.65,0.983),(8785.33,0.992),(8786.68,0.994),(8788.38,0.994),(8789.40,0.990),(8790.01,0.969),(8790.42,0.946),(8790.82,0.953),(8791.26,0.984),(8791.77,0.992),(8792.45,0.984),(8792.86,0.948),(8793.30,0.918),(8793.74,0.958),(8794.22,0.990),(8795.16,0.995),(8796.18,0.995),(8796.86,0.984),(8797.54,0.990),(8798.56,0.996),(8799.58,0.992),(8800.42,0.990),(8801.27,0.995),(8802.29,0.998),(8803.31,0.998),
(8803.81,0.990),(8804.11,0.963),(8804.40,0.937),(8804.61,0.927),(8804.85,0.942),(8805.14,0.969),(8805.50,0.981),(8805.73,0.958),(8806.03,0.906),(8806.33,0.843),(8806.62,0.790),(8806.83,0.780),(8807.06,0.811),(8807.36,0.906),(8807.65,0.969),(8808.10,0.990),(8808.69,0.990),(8809.13,0.979),(8809.43,0.969),(8809.72,0.979),(8810.17,1.005),(8811.05,1.008),(8812.24,1.008),(8813.42,1.007),(8814.01,1.000),(8814.45,0.992),(8814.89,1.000),(8815.49,1.013),(8816.37,1.010),(8817.26,1.005),(8818.15,1.008),(8819.03,1.005),(8819.92,1.002),(8820.81,1.000),(8821.25,1.000),(8821.69,1.008),(8822.58,1.013),(8823.02,1.010),(8823.47,0.969),(8823.82,0.885),(8824.20,0.848),(8824.50,0.864),(8824.79,0.927),(8825.24,1.010),(8825.83,1.013),(8827.01,1.010),(8828.49,1.008),(8829.97,1.005),(8831.44,1.002),(8832.92,0.995),(8834.10,0.990),(8834.99,0.984),(8835.58,0.969),(8836.02,0.963),(8836.47,0.971),(8837.06,0.974),(8837.50,0.963),(8837.94,0.927),(8838.39,0.879),(8838.68,0.874),(8839.13,0.916),(8839.42,0.948),(8839.78,0.958)]

# Line identifications (wavelength, label)
P1_LINES = [(7405.77,"Si I"),(7409.35,"Ni I"),(7411.15,"Fe I"),(7414.50,"Ni I"),(7415.95,"Si I"),(7418.67,"Fe I"),(7422.28,"Ni I"),(7440.58,"Ti I"),(7445.75,"Fe I"),(7462.41,"Fe II"),(7489.57,"Ti I"),(7491.65,"Fe I"),(7495.07,"Fe I"),(7511.02,"Fe I"),(7522.76,"Ni I"),(7525.11,"Ni I"),(7531.14,"Fe I"),(7532.55,"Fe II")]
P2_LINES = [(8514.07,"Fe I"),(8518.35,"Ti I"),(8526.67,"Fe I"),(8542.09,"Ca II"),(8548.08,"Ti I"),(8582.26,"Fe I"),(8611.80,"Fe I"),(8621.60,"Fe I"),(8662.14,"Ca II"),(8674.75,"Fe I"),(8682.98,"Ti I"),(8688.62,"Fe I"),(8692.33,"Ti I"),(8699.45,"Fe I")]
P3_LINES = [(8710.39,"Fe I"),(8713.19,"Fe I"),(8717.83,"Mg I"),(8757.19,"Fe I"),(8763.97,"Fe I"),(8766.66,"Ti I"),(8772.87,"Al I"),(8790.50,"Fe I"),(8793.34,"Fe"),(8804.62,"Fe I"),(8806.76,"Mg I"),(8824.22,"Fe I"),(8838.43,"Fe I")]

# Axis settings
X_RANGES = [(7400, 7540), (8500, 8700), (8700, 8839.8)]
X_TICKS = [[7400, 7420, 7440, 7460, 7480, 7500, 7520, 7540],
           [8500, 8550, 8600, 8650, 8700],
           [8700, 8720, 8740, 8760, 8780, 8800, 8820]]
Y_RANGES = [(0.7505, 1.3993), (0.1375, 1.3352), (0.4621, 1.2785)]
Y_TICKS = [0.5, 1.0, 1.5]

# ---------------- figure ----------------
W, H = 2035, 1103
PANEL_H = 0.8 / 3.4
GAP = 0.2 * PANEL_H
Y_DOMAINS = [(0.9 - PANEL_H, 0.9),
             (0.9 - 2 * PANEL_H - GAP, 0.9 - PANEL_H - GAP),
             (0.1, 0.1 + PANEL_H)]
PANEL_PX = PANEL_H * H

FONT = "DejaVu Sans, Bitstream Vera Sans, sans-serif"

fig = go.Figure()
series = [(P1_OBS, P1_MOD), (P2_OBS, P2_MOD), (P3_OBS, P3_MOD)]
for i, (obs, mod) in enumerate(series):
    ax = "" if i == 0 else str(i + 1)
    fig.add_trace(go.Scatter(x=[p[0] for p in obs], y=[p[1] for p in obs], mode="lines",
                             line=dict(color="black", width=2), xaxis="x" + ax, yaxis="y" + ax,
                             showlegend=False, hoverinfo="skip"))
    fig.add_trace(go.Scatter(x=[p[0] for p in mod], y=[p[1] for p in mod], mode="lines",
                             line=dict(color="#ff0000", width=2), xaxis="x" + ax, yaxis="y" + ax,
                             showlegend=False, hoverinfo="skip"))

axis_common = dict(showgrid=False, zeroline=False, showline=True, linecolor="black", linewidth=2,
                   mirror="allticks", ticks="inside", ticklen=8, tickwidth=1.5, tickcolor="black",
                   automargin=False,
                   tickfont=dict(family=FONT, size=24, color="black"))

layout = dict(template="none", width=W, height=H,
              margin=dict(l=0, r=0, t=0, b=0, pad=0, autoexpand=False),
              font=dict(family=FONT, color="black"),
              paper_bgcolor="white", plot_bgcolor="white", showlegend=False)

for i in range(3):
    ax = "" if i == 0 else str(i + 1)
    layout["xaxis" + ax] = dict(axis_common, domain=[0.125, 0.9], range=list(X_RANGES[i]),
                                tickvals=X_TICKS[i], ticktext=[str(v) for v in X_TICKS[i]],
                                anchor="y" + ax, ticklabelstandoff=-3)
    layout["yaxis" + ax] = dict(axis_common, domain=list(Y_DOMAINS[i]), range=list(Y_RANGES[i]),
                                tickvals=Y_TICKS, ticktext=["%.1f" % v for v in Y_TICKS],
                                anchor="x" + ax, ticklabelstandoff=0)

fig.update_layout(**layout)

annotations = []
shapes = []
TEXT_TOP = 1 - 11.5 / PANEL_PX
TICK_Y0 = 1 - 65 / PANEL_PX
TICK_Y1 = 1 - 50 / PANEL_PX
for i, lines in enumerate([P1_LINES, P2_LINES, P3_LINES]):
    ax = "" if i == 0 else str(i + 1)
    for wl, name in lines:
        annotations.append(dict(x=wl, y=TEXT_TOP, xref="x" + ax, yref="y" + ax + " domain",
                                text=name, textangle=-90, showarrow=False,
                                xanchor="center", yanchor="top", borderpad=0,
                                font=dict(family=FONT, size=19, color="black")))
        shapes.append(dict(type="line", xref="x" + ax, yref="y" + ax + " domain",
                           x0=wl, x1=wl, y0=TICK_Y0, y1=TICK_Y1,
                           line=dict(color="black", width=2)))

# axis titles
annotations.append(dict(x=158 / W, y=0.5, xref="paper", yref="paper", showarrow=False,
                        textangle=-90, xanchor="center", yanchor="middle",
                        text="Flux (10<sup>\u221216</sup> ergs s<sup>\u22121</sup> cm<sup>\u22122</sup> "
                             "<span style='font-family:Liberation Serif, serif'>\u00c5</span>)",
                        font=dict(family=FONT, size=24, color="black")))
annotations.append(dict(x=0.5125, y=1 - 1074 / H, xref="paper", yref="paper", showarrow=False,
                        xanchor="center", yanchor="middle",
                        text="<i>\u03bb</i> (\u00c5)",
                        font=dict(family="Liberation Serif, DejaVu Serif, serif", size=25, color="black")))

fig.update_layout(annotations=annotations, shapes=shapes)

fig.write_html("out.html")
